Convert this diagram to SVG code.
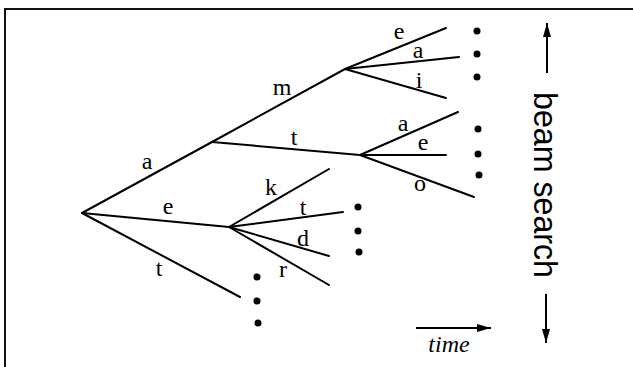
<svg xmlns="http://www.w3.org/2000/svg" width="633" height="367" viewBox="0 0 633 367">
<style>
.frame{fill:none;stroke:#111;stroke-width:2}
.e{stroke:#000;stroke-width:2;fill:none;stroke-linecap:round}
.dot{fill:#000}
.lbl{font-family:"Liberation Serif","Times New Roman",serif;font-size:24px;fill:#000;text-anchor:middle}
.ax{stroke:#000;stroke-width:2;fill:none}
</style>
<defs>
<marker id="ah" viewBox="0 0 14 8" refX="14" refY="4" markerWidth="14" markerHeight="8" markerUnits="userSpaceOnUse" orient="auto">
<path d="M0,0 L14,4 L0,8 Z" fill="#000"/>
</marker>
</defs>
<rect width="633" height="367" fill="#fff"/>
<path class="frame" d="M5,367 V9 H633"/>
<g id="connectors">
<line class="e" x1="82" y1="213" x2="212" y2="142"/>
<line class="e" x1="82" y1="213" x2="229" y2="227"/>
<line class="e" x1="82" y1="213" x2="240" y2="297"/>
<line class="e" x1="212" y1="142" x2="345" y2="69"/>
<line class="e" x1="212" y1="142" x2="360" y2="155"/>
<line class="e" x1="345" y1="69" x2="446" y2="28"/>
<line class="e" x1="345" y1="69" x2="459" y2="57"/>
<line class="e" x1="345" y1="69" x2="446" y2="98"/>
<line class="e" x1="360" y1="155" x2="458" y2="112"/>
<line class="e" x1="360" y1="155" x2="446" y2="155"/>
<line class="e" x1="360" y1="155" x2="474" y2="197"/>
<line class="e" x1="229" y1="227" x2="329" y2="169"/>
<line class="e" x1="229" y1="227" x2="343" y2="212"/>
<line class="e" x1="229" y1="227" x2="329" y2="256"/>
<line class="e" x1="229" y1="227" x2="329" y2="285"/>
</g>
<g id="labels">
<text class="lbl" x="147" y="169">a</text>
<text class="lbl" x="282" y="95">m</text>
<text class="lbl" x="294" y="145">t</text>
<text class="lbl" x="168" y="214">e</text>
<text class="lbl" x="159" y="276">t</text>
<text class="lbl" x="399" y="39">e</text>
<text class="lbl" x="418" y="58">a</text>
<text class="lbl" x="419" y="88">i</text>
<text class="lbl" x="403" y="131">a</text>
<text class="lbl" x="423" y="150">e</text>
<text class="lbl" x="420" y="191">o</text>
<text class="lbl" x="271" y="195">k</text>
<text class="lbl" x="303" y="215">t</text>
<text class="lbl" x="303" y="246">d</text>
<text class="lbl" x="283" y="277">r</text>
</g>
<g id="dots">
<circle class="dot" cx="477" cy="31" r="3.5"/>
<circle class="dot" cx="477" cy="54" r="3.5"/>
<circle class="dot" cx="477" cy="77" r="3.5"/>
<circle class="dot" cx="478" cy="129" r="3.5"/>
<circle class="dot" cx="478" cy="154" r="3.5"/>
<circle class="dot" cx="479" cy="175" r="3.5"/>
<circle class="dot" cx="358" cy="207" r="3.5"/>
<circle class="dot" cx="358" cy="231" r="3.5"/>
<circle class="dot" cx="359" cy="252" r="3.5"/>
<circle class="dot" cx="257" cy="277" r="3.5"/>
<circle class="dot" cx="257" cy="301" r="3.5"/>
<circle class="dot" cx="258" cy="323" r="3.5"/>
</g>
<g id="beam-axis">
<line class="ax" x1="547" y1="73" x2="547" y2="23" marker-end="url(#ah)"/>
<line class="ax" x1="546" y1="294" x2="546" y2="343" marker-end="url(#ah)"/>
<text x="534" y="185" transform="rotate(90 534 185)" text-anchor="middle" font-family="'Liberation Sans',Arial,sans-serif" font-size="33" fill="#000" textLength="186" lengthAdjust="spacingAndGlyphs">beam search</text>
</g>
<g id="time-axis">
<line class="ax" x1="416" y1="328" x2="491" y2="328" marker-end="url(#ah)"/>
<text x="449" y="352" text-anchor="middle" font-family="'Liberation Serif','Times New Roman',serif" font-style="italic" font-size="24" fill="#000">time</text>
</g>
</svg>
